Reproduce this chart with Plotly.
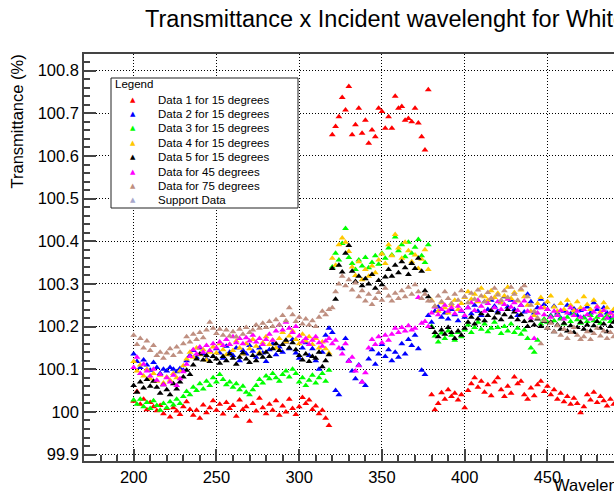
import plotly.graph_objects as go

# Wavelength grid (nm) shared by all measurement series
wavelength = list(range(200, 491, 2))

data1_15deg = [
    100.025, 100.048, 100.018, 100.030, 100.005, 100.022, 100.012, 100.003, 100.015, 99.996,
    100.008, 99.988, 100.010, 100.002, 99.994, 100.012, 100.024, 100.006, 99.992, 100.004,
    99.985, 100.016, 99.998, 100.010, 100.026, 100.004, 100.018, 99.995, 100.022, 100.008,
    100.015, 99.990, 100.028, 100.006, 100.012, 99.978, 100.020, 100.002, 100.032, 100.010,
    99.996, 100.018, 100.004, 100.026, 99.992, 100.014, 100.000, 100.030, 100.008, 99.994,
    100.012, 100.034, 100.020, 100.028, 100.006, 100.014, 99.996, 100.004, 99.985, 99.968,
    100.650, 100.669, 100.692, 100.737, 100.708, 100.763, 100.650, 100.673, 100.712, 100.653,
    100.684, 100.630, 100.661, 100.645, 100.712, 100.704, 100.665, 100.692, 100.665, 100.740,
    100.712, 100.716, 100.684, 100.688, 100.680, 100.712, 100.677, 100.645, 100.614, 100.755,
    100.040, 100.005, 100.020, 100.045, 100.030, 100.052, 100.036, 100.044, 100.028, 100.040,
    100.010, 100.050, 100.066, 100.080, 100.058, 100.072, 100.046, 100.064, 100.038, 100.070,
    100.080, 100.052, 100.036, 100.060, 100.044, 100.082, 100.066, 100.072, 100.040, 100.030,
    100.056, 100.038, 100.064, 100.072, 100.048, 100.060, 100.040, 100.052, 100.030, 100.044,
    100.024, 100.036, 100.018, 100.032, 100.020, 99.998, 100.012, 100.040, 100.028, 100.046,
    100.022, 100.036, 100.026, 100.014, 100.030, 100.018,
]

data2_15deg = [
    100.136, 100.118, 100.104, 100.122, 100.110, 100.098, 100.116, 100.104, 100.090, 100.100,
    100.096, 100.104, 100.100, 100.094, 100.102, 100.098, 100.120, 100.132, 100.144, 100.128,
    100.150, 100.136, 100.124, 100.142, 100.130, 100.148, 100.138, 100.126, 100.154, 100.140,
    100.132, 100.150, 100.120, 100.144, 100.136, 100.156, 100.142, 100.128, 100.150, 100.138,
    100.118, 100.146, 100.160, 100.134, 100.152, 100.140, 100.164, 100.148, 100.170, 100.138,
    100.126, 100.150, 100.162, 100.132, 100.148, 100.120, 100.100, 100.140, 100.180, 100.196,
    100.186, 100.050, 100.040, 100.148, 100.172, 100.120, 100.096, 100.078, 100.110, 100.070,
    100.062, 100.124, 100.146, 100.112, 100.136, 100.158, 100.130, 100.146, 100.120, 100.140,
    100.128, 100.160, 100.136, 100.170, 100.156, 100.180, 100.148, 100.098, 100.088, 100.226,
    100.210, 100.236, 100.246, 100.222, 100.232, 100.218, 100.240, 100.228, 100.214, 100.236,
    100.222, 100.244, 100.230, 100.250, 100.236, 100.226, 100.258, 100.240, 100.262, 100.248,
    100.236, 100.256, 100.270, 100.246, 100.262, 100.240, 100.226, 100.250, 100.234, 100.276,
    100.258, 100.232, 100.244, 100.264, 100.252, 100.240, 100.226, 100.248, 100.232, 100.220,
    100.236, 100.250, 100.230, 100.242, 100.226, 100.238, 100.222, 100.246, 100.232, 100.256,
    100.240, 100.228, 100.244, 100.232, 100.220, 100.236,
]

data3_15deg = [
    100.028, 100.018, 100.030, 100.012, 100.022, 100.008, 100.026, 100.015, 100.004, 100.020,
    100.010, 100.024, 100.016, 100.030, 100.020, 100.036, 100.048, 100.040, 100.058, 100.050,
    100.066, 100.054, 100.072, 100.062, 100.080, 100.070, 100.088, 100.076, 100.064, 100.070,
    100.058, 100.066, 100.052, 100.060, 100.046, 100.040, 100.052, 100.062, 100.076, 100.068,
    100.084, 100.078, 100.090, 100.080, 100.072, 100.088, 100.096, 100.082, 100.100, 100.090,
    100.070, 100.080, 100.062, 100.074, 100.086, 100.068, 100.080, 100.090, 100.072, 100.098,
    100.340, 100.372, 100.356, 100.395, 100.430, 100.362, 100.348, 100.334, 100.356, 100.342,
    100.362, 100.338, 100.350, 100.366, 100.346, 100.372, 100.360, 100.384, 100.368, 100.410,
    100.378, 100.392, 100.364, 100.398, 100.372, 100.386, 100.404, 100.366, 100.350, 100.392,
    100.200, 100.178, 100.164, 100.185, 100.172, 100.190, 100.180, 100.168, 100.186, 100.176,
    100.192, 100.204, 100.186, 100.198, 100.210, 100.194, 100.206, 100.188, 100.196, 100.210,
    100.198, 100.184, 100.200, 100.190, 100.206, 100.186, 100.196, 100.182, 100.192, 100.172,
    100.150, 100.140, 100.168, 100.206, 100.218, 100.210, 100.224, 100.214, 100.228, 100.218,
    100.206, 100.222, 100.212, 100.230, 100.216, 100.208, 100.220, 100.212, 100.226, 100.214,
    100.222, 100.208, 100.218, 100.226, 100.212, 100.220,
]

data4_15deg = [
    100.118, 100.096, 100.110, 100.084, 100.100, 100.078, 100.090, 100.072, 100.086, 100.068,
    100.082, 100.074, 100.090, 100.080, 100.096, 100.108, 100.124, 100.140, 100.128, 100.150,
    100.134, 100.146, 100.122, 100.140, 100.152, 100.138, 100.160, 100.146, 100.134, 100.158,
    100.144, 100.166, 100.150, 100.136, 100.160, 100.148, 100.170, 100.154, 100.140, 100.162,
    100.176, 100.158, 100.168, 100.150, 100.172, 100.186, 100.164, 100.178, 100.190, 100.170,
    100.160, 100.182, 100.166, 100.176, 100.158, 100.172, 100.150, 100.164, 100.148, 100.138,
    100.360, 100.344, 100.392, 100.408, 100.398, 100.376, 100.340, 100.320, 100.352, 100.310,
    100.334, 100.318, 100.342, 100.326, 100.356, 100.370, 100.348, 100.392, 100.366, 100.416,
    100.384, 100.360, 100.398, 100.378, 100.352, 100.368, 100.336, 100.358, 100.380, 100.334,
    100.262, 100.248, 100.236, 100.256, 100.244, 100.232, 100.250, 100.262, 100.240, 100.254,
    100.268, 100.282, 100.264, 100.276, 100.258, 100.290, 100.270, 100.262, 100.284, 100.268,
    100.278, 100.256, 100.272, 100.292, 100.266, 100.280, 100.260, 100.286, 100.270, 100.250,
    100.236, 100.226, 100.254, 100.268, 100.244, 100.258, 100.272, 100.246, 100.236, 100.254,
    100.240, 100.262, 100.250, 100.238, 100.258, 100.244, 100.270, 100.252, 100.240, 100.262,
    100.248, 100.234, 100.256, 100.244, 100.230, 100.240,
]

data5_15deg = [
    100.062, 100.046, 100.070, 100.056, 100.076, 100.060, 100.072, 100.058, 100.044, 100.064,
    100.052, 100.040, 100.066, 100.054, 100.070, 100.082, 100.098, 100.088, 100.110, 100.124,
    100.136, 100.122, 100.132, 100.118, 100.130, 100.124, 100.114, 100.130, 100.120, 100.136,
    100.126, 100.112, 100.128, 100.138, 100.124, 100.116, 100.132, 100.120, 100.136, 100.128,
    100.140, 100.130, 100.148, 100.160, 100.144, 100.158, 100.168, 100.150, 100.162, 100.146,
    100.132, 100.122, 100.136, 100.118, 100.130, 100.126, 100.140, 100.106, 100.120, 100.134,
    100.336, 100.264, 100.344, 100.328, 100.372, 100.390, 100.330, 100.306, 100.318, 100.296,
    100.312, 100.300, 100.322, 100.290, 100.308, 100.298, 100.316, 100.334, 100.318, 100.344,
    100.326, 100.352, 100.338, 100.322, 100.348, 100.336, 100.360, 100.330, 100.284, 100.270,
    100.198, 100.186, 100.176, 100.192, 100.182, 100.198, 100.186, 100.172, 100.190, 100.180,
    100.196, 100.210, 100.222, 100.206, 100.218, 100.230, 100.214, 100.226, 100.238, 100.220,
    100.232, 100.216, 100.228, 100.240, 100.222, 100.234, 100.216, 100.228, 100.212, 100.200,
    100.214, 100.204, 100.218, 100.200, 100.212, 100.196, 100.210, 100.188, 100.204, 100.194,
    100.208, 100.190, 100.202, 100.186, 100.198, 100.210, 100.194, 100.204, 100.190, 100.202,
    100.212, 100.196, 100.206, 100.188, 100.200, 100.210,
]

data_45deg = [
    100.104, 100.128, 100.090, 100.112, 100.096, 100.084, 100.100, 100.074, 100.088, 100.064,
    100.080, 100.070, 100.086, 100.062, 100.078, 100.094, 100.112, 100.130, 100.146, 100.136,
    100.152, 100.140, 100.156, 100.144, 100.160, 100.150, 100.164, 100.156, 100.170, 100.158,
    100.176, 100.162, 100.172, 100.160, 100.174, 100.166, 100.180, 100.164, 100.172, 100.158,
    100.170, 100.182, 100.168, 100.190, 100.204, 100.192, 100.210, 100.196, 100.186, 100.200,
    100.178, 100.164, 100.172, 100.158, 100.168, 100.176, 100.162, 100.154, 100.166, 100.172,
    100.160, 100.168, 100.150, 100.136, 100.160, 100.118, 100.128, 100.096, 100.108, 100.070,
    100.092, 100.150, 100.170, 100.158, 100.176, 100.162, 100.180, 100.168, 100.182, 100.196,
    100.186, 100.198, 100.190, 100.202, 100.192, 100.196, 100.268, 100.208, 100.212, 100.200,
    100.232, 100.246, 100.228, 100.240, 100.250, 100.236, 100.244, 100.230, 100.248, 100.238,
    100.226, 100.244, 100.256, 100.238, 100.262, 100.248, 100.236, 100.254, 100.266, 100.244,
    100.258, 100.240, 100.252, 100.264, 100.246, 100.256, 100.238, 100.250, 100.260, 100.236,
    100.220, 100.172, 100.232, 100.244, 100.228, 100.240, 100.222, 100.236, 100.226, 100.238,
    100.218, 100.232, 100.244, 100.226, 100.236, 100.222, 100.240, 100.228, 100.218, 100.234,
    100.246, 100.226, 100.238, 100.220, 100.232, 100.224,
]

data_75deg = [
    100.180, 100.158, 100.172, 100.150, 100.166, 100.144, 100.156, 100.132, 100.140, 100.126,
    100.138, 100.148, 100.132, 100.152, 100.140, 100.160, 100.176, 100.164, 100.182, 100.170,
    100.186, 100.174, 100.192, 100.210, 100.196, 100.184, 100.194, 100.180, 100.192, 100.178,
    100.188, 100.176, 100.194, 100.182, 100.198, 100.186, 100.192, 100.204, 100.196, 100.208,
    100.198, 100.212, 100.200, 100.216, 100.204, 100.226, 100.214, 100.244, 100.228, 100.212,
    100.222, 100.206, 100.218, 100.204, 100.214, 100.200, 100.222, 100.236, 100.228, 100.240,
    100.244, 100.282, 100.300, 100.318, 100.296, 100.310, 100.286, 100.302, 100.270, 100.284,
    100.260, 100.276, 100.252, 100.266, 100.280, 100.262, 100.290, 100.272, 100.260, 100.278,
    100.266, 100.284, 100.270, 100.292, 100.276, 100.298, 100.282, 100.266, 100.276, 100.260,
    100.260, 100.248, 100.272, 100.258, 100.282, 100.266, 100.254, 100.276, 100.262, 100.284,
    100.270, 100.256, 100.278, 100.264, 100.286, 100.272, 100.258, 100.280, 100.266, 100.290,
    100.274, 100.262, 100.284, 100.268, 100.292, 100.276, 100.262, 100.288, 100.296, 100.270,
    100.250, 100.236, 100.220, 100.160, 100.214, 100.196, 100.208, 100.188, 100.202, 100.180,
    100.194, 100.172, 100.186, 100.198, 100.180, 100.170, 100.176, 100.188, 100.170, 100.184,
    100.196, 100.178, 100.190, 100.172, 100.186, 100.176,
]

# Support measurement: no points inside the displayed window
support_wavelength = []
support_data = []

series_names = [
    "Data 1 for 15 degrees",
    "Data 2 for 15 degrees",
    "Data 3 for 15 degrees",
    "Data 4 for 15 degrees",
    "Data 5 for 15 degrees",
    "Data for 45 degrees",
    "Data for 75 degrees",
    "Support Data",
]
series_colors = ["#ff0000", "#0000ff", "#00ff00", "#ffc800", "#000000",
                 "#ff00ff", "#bf8f80", "#a8a8cc"]
series_x = [wavelength] * 7 + [support_wavelength]
series_y = [data1_15deg, data2_15deg, data3_15deg, data4_15deg, data5_15deg,
            data_45deg, data_75deg, support_data]

FONT = "Liberation Sans, Arial, Helvetica, sans-serif"
W, H = 614, 500
ML, MT, MB = 84, 54, 39
PW, PH = W - ML, H - MT - MB

fig = go.Figure()
for name, color, xs, ys in zip(series_names, series_colors, series_x, series_y):
    fig.add_trace(go.Scatter(
        x=xs, y=ys, mode="markers", name=name, showlegend=False,
        marker=dict(symbol="triangle-up", size=6, color=color, line=dict(width=0)),
    ))


def px_to_paper(px, py):
    """Pixel position on the page -> paper coordinates of the plot frame."""
    return (px - ML) / PW, (H - MB - py) / PH


# Legend box (page pixels)
legend_x0, legend_x1, legend_y0, legend_y1 = 111, 298, 78, 208
row0, row_step = 99.5, 14.4
rows_y = [row0 + i * row_step for i in range(len(series_names))]

annotations = []
hx, hy = px_to_paper(113, 84)
annotations.append(dict(
    xref="paper", yref="paper", x=hx, y=hy, text="Legend", showarrow=False,
    xanchor="left", yanchor="middle", font=dict(family=FONT, size=11.5, color="#000"),
))
for name, color, ry in zip(series_names, series_colors, rows_y):
    mx, my = px_to_paper(133, ry)
    annotations.append(dict(
        xref="paper", yref="paper", x=mx, y=my, text="▲", showarrow=False,
        xanchor="center", yanchor="middle",
        font=dict(family="DejaVu Sans", size=7, color=color),
    ))
    lx, ly = px_to_paper(156, ry)
    annotations.append(dict(
        xref="paper", yref="paper", x=lx, y=ly, text=name, showarrow=False,
        xanchor="left", yanchor="middle", font=dict(family=FONT, size=11.5, color="#000"),
    ))

# Title and axis titles
tx, ty = px_to_paper(143, 19.5)
annotations.append(dict(
    xref="paper", yref="paper", x=tx, y=ty, xanchor="left", yanchor="middle",
    text="Transmittance x Incident wavelenght for White Paper", showarrow=False,
    font=dict(family=FONT, size=23.5, color="#000"),
))
xx, xy = px_to_paper(552, 485)
annotations.append(dict(
    xref="paper", yref="paper", x=xx, y=xy, xanchor="left", yanchor="middle",
    text="Wavelength (nm)", showarrow=False,
    font=dict(family=FONT, size=16.5, color="#000"),
))
yx, yy_ = px_to_paper(16.5, 53)
annotations.append(dict(
    xref="paper", yref="paper", x=yx, y=yy_, xanchor="center", yanchor="top",
    text="Transmittance (%)", textangle=-90, showarrow=False,
    font=dict(family=FONT, size=16.5, color="#000"),
))

bx0, by0 = px_to_paper(legend_x0, legend_y1)
bx1, by1 = px_to_paper(legend_x1, legend_y0)

axis_color = "#444444"
fig.update_layout(
    width=W, height=H,
    margin=dict(l=ML, r=0, t=MT, b=MB, pad=0),
    paper_bgcolor="white", plot_bgcolor="white",
    showlegend=False,
    font=dict(family=FONT, size=16.5, color="#000"),
    xaxis=dict(
        range=[170, 490.2], tick0=200, dtick=50,
        ticks="inside", ticklen=12, tickwidth=1.5, tickcolor=axis_color,
        minor=dict(ticks="inside", ticklen=6, dtick=10, tickwidth=1.5,
                   tickcolor=axis_color, showgrid=False),
        showline=True, linecolor=axis_color, linewidth=1.5, mirror=True,
        showgrid=True, gridcolor="#000000", gridwidth=1, griddash="1px,2px",
        zeroline=False, tickfont=dict(family=FONT, size=16.5, color="#000"),
    ),
    yaxis=dict(
        range=[99.885, 100.839], tick0=100, dtick=0.1,
        ticks="inside", ticklen=12, tickwidth=1.5, tickcolor=axis_color,
        minor=dict(ticks="inside", ticklen=6, dtick=0.02, tickwidth=1.5,
                   tickcolor=axis_color, showgrid=False),
        showline=True, linecolor=axis_color, linewidth=1.5, mirror=False,
        showgrid=True, gridcolor="#000000", gridwidth=1, griddash="1px,2px",
        zeroline=False, tickfont=dict(family=FONT, size=16.5, color="#000"),
    ),
    shapes=[dict(type="rect", xref="paper", yref="paper",
                 x0=bx0, x1=bx1, y0=by0, y1=by1,
                 line=dict(color="#222222", width=1), fillcolor="white",
                 layer="above")],
    annotations=annotations,
)

fig.write_html("out.html")
